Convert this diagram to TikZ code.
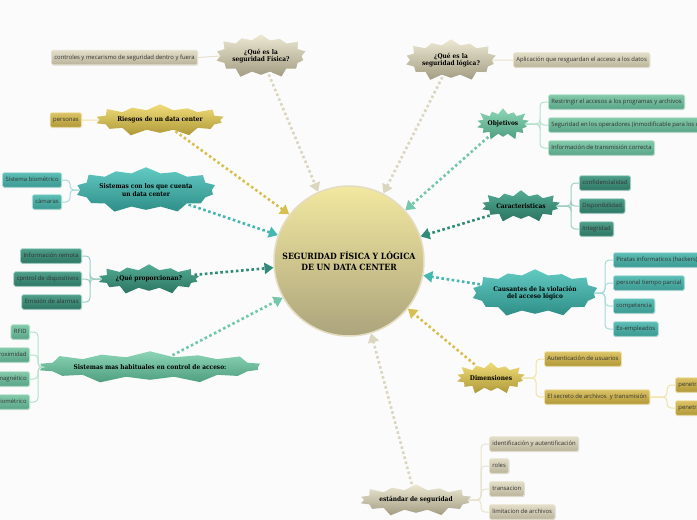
\documentclass[tikz,border=0pt]{standalone}
\usepackage{fontspec}
\setmainfont{Open Sans}
\newfontfamily\starfont[FakeStretch=0.9]{DejaVu Serif}
\usetikzlibrary{shapes.symbols}
\usetikzlibrary{shadows}
\usetikzlibrary{arrows.meta}

\definecolor{bgpage}{HTML}{FBFBFB}
\definecolor{tanTop}{HTML}{ECE8D2}
\definecolor{tanBot}{HTML}{A29C82}
\definecolor{tanLeafT}{HTML}{E2DEC8}
\definecolor{tanLeafB}{HTML}{BAB39A}
\definecolor{tanLine}{HTML}{E6E2CE}
\definecolor{tanDot}{HTML}{DAD6C0}
\definecolor{goldTop}{HTML}{F0DC78}
\definecolor{goldBot}{HTML}{AE9838}
\definecolor{goldLeafT}{HTML}{DCC466}
\definecolor{goldLeafB}{HTML}{B09838}
\definecolor{goldLine}{HTML}{F0E2A6}
\definecolor{goldDot}{HTML}{D8C050}
\definecolor{tealTop}{HTML}{62CAC2}
\definecolor{tealBot}{HTML}{2E8E88}
\definecolor{tealLeafT}{HTML}{5CBEB6}
\definecolor{tealLeafB}{HTML}{3A9890}
\definecolor{tealLine}{HTML}{A6DCD8}
\definecolor{tealDot}{HTML}{44B8B0}
\definecolor{dtealTop}{HTML}{54AC94}
\definecolor{dtealBot}{HTML}{2A7462}
\definecolor{dtealLeafT}{HTML}{4E9E8A}
\definecolor{dtealLeafB}{HTML}{2E7664}
\definecolor{dtealLine}{HTML}{9CCFC2}
\definecolor{dtealDot}{HTML}{2E8C78}
\definecolor{seaTop}{HTML}{8CD6B6}
\definecolor{seaBot}{HTML}{4E9E80}
\definecolor{seaLeafT}{HTML}{84CAAA}
\definecolor{seaLeafB}{HTML}{58A488}
\definecolor{seaLine}{HTML}{B4E2CC}
\definecolor{seaDot}{HTML}{72C8A8}
\definecolor{coreTop}{HTML}{F2E8A0}
\definecolor{coreBot}{HTML}{ACA47C}
\definecolor{coreRim}{HTML}{E4DCC0}

\begin{document}
\begin{tikzpicture}[x=1pt,y=1pt,yscale=-1,xscale=1,
  star/.style={starburst, starburst points=14, starburst point height=8pt,
    inner sep=0pt, align=center, text=black,
    font=\starfont\bfseries\fontsize{6.5}{7.6}\selectfont},
  leaf/.style={rectangle, rounded corners=1.5pt, line width=0.8pt,
    inner xsep=3pt, inner ysep=0pt, minimum height=14.5pt,
    text height=4.3pt, text depth=1.3pt, text=black!80,
    font=\fontsize{5.9}{7}\selectfont,
    drop shadow={shadow xshift=0.5pt, shadow yshift=-0.8pt, opacity=0.25}},
  branch/.style={line width=1pt, rounded corners=4pt},
  arr/.style={line width=2.6pt, dash pattern=on 2.6pt off 2.6pt, shorten <=2pt},
  tanstar/.style={star, top color=tanTop, bottom color=tanBot},
  goldstar/.style={star, top color=goldTop, bottom color=goldBot},
  tealstar/.style={star, top color=tealTop, bottom color=tealBot},
  dtealstar/.style={star, top color=dtealTop, bottom color=dtealBot},
  seastar/.style={star, top color=seaTop, bottom color=seaBot},
  tanleaf/.style={leaf, top color=tanLeafT, bottom color=tanLeafB, draw=tanLine},
  goldleaf/.style={leaf, top color=goldLeafT, bottom color=goldLeafB, draw=goldLine},
  tealleaf/.style={leaf, top color=tealLeafT, bottom color=tealLeafB, draw=tealLine},
  dtealleaf/.style={leaf, top color=dtealLeafT, bottom color=dtealLeafB, draw=dtealLine},
  sealeaf/.style={leaf, top color=seaLeafT, bottom color=seaLeafB, draw=seaLine}]

%Background
\fill [bgpage] (0,0) rectangle (697,520);
\useasboundingbox (0,0) rectangle (697,520);

%Shape: Circle
\draw (349,261) node [circle, minimum size=150pt, line width=1.5pt, draw=coreRim,
  top color=coreTop, bottom color=coreBot, align=center,
  font=\starfont\bfseries\fontsize{8.6}{10.2}\selectfont] (core)
  {SEGURIDAD FÍSICA Y LÓGICA\\DE UN DATA CENTER};

% Star Nodes
\draw (261,56) node [tanstar, minimum width=84pt, minimum height=48pt] (fis) {¿Qué es la\\seguridad Física?};
\draw (451,60) node [tanstar, minimum width=84pt, minimum height=46pt] (logi) {¿Qué es la\\seguridad lógica?};
\draw (416,500) node [tanstar, minimum width=104pt, minimum height=36pt] (estd) {estándar de seguridad};
\draw (160,120) node [goldstar, minimum width=118pt, minimum height=36pt] (ries) {Riesgos de un data center};
\draw (491,378) node [goldstar, minimum width=70pt, minimum height=36pt] (dims) {Dimensiones};
\draw (146,190) node [tealstar, minimum width=130pt, minimum height=50pt] (cuen) {Sistemas con los que cuenta\\un data center};
\draw (535,293) node [tealstar, minimum width=117pt, minimum height=52pt] (caus) {Causantes de la violación\\del acceso lógico};
\draw (149,279) node [dtealstar, minimum width=94pt, minimum height=34pt] (prop) {¿Qué proporcionan?};
\draw (521,206) node [dtealstar, minimum width=76pt, minimum height=36pt] (cara) {Caracteristicas};
\draw (503,124) node [seastar, minimum width=54pt, minimum height=36pt] (objt) {Objetivos};
\draw (150,367) node [seastar, minimum width=202pt, minimum height=36pt] (habi) {Sistemas mas habituales en control de acceso:};

% Text Node
\draw (198,57.5) node [tanleaf, anchor=east] (fis1) {controles y mecarismo de seguridad dentro y fuera};
\draw (513,60) node [tanleaf, anchor=west] (log1) {Aplicación que resguardan el acceso a los datos};
\draw (489,444) node [tanleaf, anchor=west] (est1) {identificación y autentificación};
\draw (489,466) node [tanleaf, anchor=west] (est2) {roles};
\draw (489,489) node [tanleaf, anchor=west] (est3) {transacion};
\draw (489,512) node [tanleaf, anchor=west] (est4) {limitacion de archivos};
% Text Node
\draw (82,120) node [goldleaf, anchor=east] (rie1) {personas};
\draw (544,359) node [goldleaf, anchor=west] (dim1) {Autenticación de usuarios};
\draw (544,397) node [goldleaf, anchor=west] (dim2) {El secreto de archivos \ y transmisión};
\draw (675,385) node [goldleaf, anchor=west] (sec1) {penetración};
\draw (675,408) node [goldleaf, anchor=west] (sec2) {penetración};
% Text Node
\draw (62,180) node [tealleaf, anchor=east] (cue1) {Sistema biométrico};
\draw (62,202) node [tealleaf, anchor=east] (cue2) {cámaras};
\draw (613,260) node [tealleaf, anchor=west] (cau1) {Piratas informaticos (hackers)};
\draw (613,283) node [tealleaf, anchor=west] (cau2) {personal tiempo parcial};
\draw (613,306) node [tealleaf, anchor=west] (cau3) {competencia};
\draw (613,329) node [tealleaf, anchor=west] (cau4) {Ex-empleados};
% Text Node
\draw (82,256) node [dtealleaf, anchor=east] (pro1) {Información remota};
\draw (82,279) node [dtealleaf, anchor=east] (pro2) {cpntrol de dispositivos};
\draw (82,302) node [dtealleaf, anchor=east] (pro3) {Emisión de alarmas};
\draw (579,183) node [dtealleaf, anchor=west] (car1) {confidencialidad};
\draw (579,206) node [dtealleaf, anchor=west] (car2) {Disponibilidad};
\draw (579,229) node [dtealleaf, anchor=west] (car3) {Integridad};
% Text Node
\draw (548,102) node [sealeaf, anchor=west] (obj1) {Restringir el accesos a los programas y archivos};
\draw (548,125) node [sealeaf, anchor=west] (obj2) {Seguridad en los operadores (inmodificable para los usuarios)};
\draw (548,148) node [sealeaf, anchor=west] (obj3) {Información de transmisión correcta};
\draw (30,332) node [sealeaf, anchor=east] (hab1) {RFID};
\draw (30,355) node [sealeaf, anchor=east] (hab2) {proximidad};
\draw (30,379) node [sealeaf, anchor=east] (hab3) {magnético};
\draw (30,402) node [sealeaf, anchor=east] (hab4) {biométrico};

%Branch Lines
\draw [branch, tanLine] (fis.west) -- (fis1.east);
\draw [branch, tanLine] (logi.east) -- (log1.west);
\foreach \n in {est1,est2,est3,est4}
  \draw [branch, tanLine] (estd.east) -| ([xshift=-8pt]\n.west) -- (\n.west);
\draw [branch, goldLine] (ries.west) -- (rie1.east);
\foreach \n in {dim1,dim2}
  \draw [branch, goldLine] (dims.east) -| ([xshift=-8pt]\n.west) -- (\n.west);
\foreach \n in {sec1,sec2}
  \draw [branch, goldLine] (dim2.east) -| ([xshift=-8pt]\n.west) -- (\n.west);
\foreach \n in {cue1,cue2}
  \draw [branch, tealLine] (cuen.west) -| ([xshift=8pt]\n.east) -- (\n.east);
\foreach \n in {cau1,cau2,cau3,cau4}
  \draw [branch, tealLine] (caus.east) -| ([xshift=-8pt]\n.west) -- (\n.west);
\foreach \n in {pro1,pro2,pro3}
  \draw [branch, dtealLine] (prop.west) -| ([xshift=8pt]\n.east) -- (\n.east);
\foreach \n in {car1,car2,car3}
  \draw [branch, dtealLine] (cara.east) -| ([xshift=-8pt]\n.west) -- (\n.west);
\foreach \n in {obj1,obj2,obj3}
  \draw [branch, seaLine] (objt.east) -| ([xshift=-8pt]\n.west) -- (\n.west);
\foreach \n in {hab1,hab2,hab3,hab4}
  \draw [branch, seaLine] (habi.west) -| ([xshift=8pt]\n.east) -- (\n.east);

%Dotted Arrows
\draw [arr, tanDot, -{Triangle[length=9pt,width=11pt]}] (fis) -- (core.114);
\draw [arr, tanDot, -{Triangle[length=9pt,width=11pt]}] (logi) -- (core.63);
\draw [arr, tanDot, -{Triangle[length=9pt,width=11pt]}] (estd) -- (core.287);
\draw [arr, goldDot, -{Triangle[length=9pt,width=11pt]}] (ries) -- (core.142);
\draw [arr, goldDot, -{Triangle[length=9pt,width=11pt]}] (dims) -- (core.321);
\draw [arr, tealDot, -{Triangle[length=9pt,width=11pt]}] (cuen) -- (core.160);
\draw [arr, tealDot, -{Triangle[length=9pt,width=11pt]}] (caus) -- (core.349);
\draw [arr, dtealDot, -{Triangle[length=9pt,width=11pt]}] (prop) -- (core.185);
\draw [arr, dtealDot, -{Triangle[length=9pt,width=11pt]}] (cara) -- (core.19);
\draw [arr, seaDot, -{Triangle[length=9pt,width=11pt]}] (objt) -- (core.42);
\draw [arr, seaDot, -{Triangle[length=9pt,width=11pt]}] (habi) -- (core.209);

\end{tikzpicture}
\end{document}
